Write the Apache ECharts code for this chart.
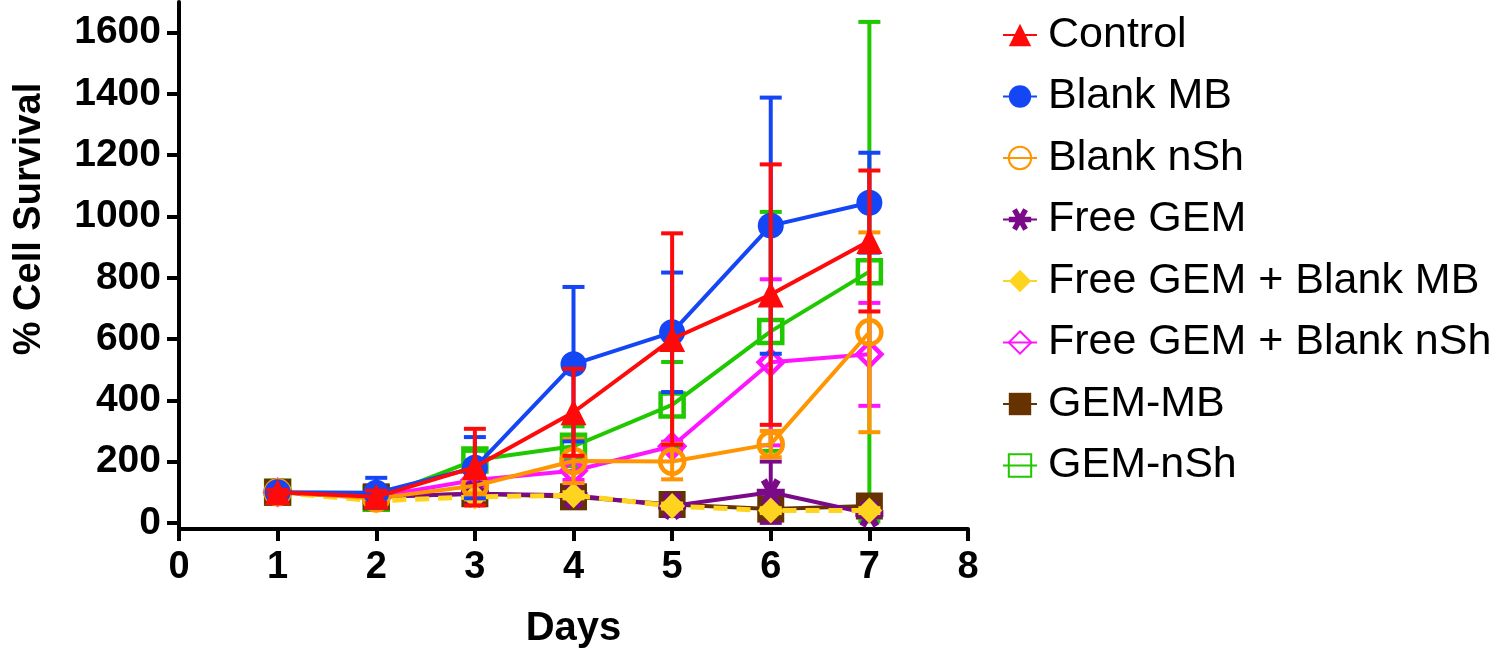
<!DOCTYPE html>
<html>
<head>
<meta charset="utf-8">
<script src="https://cdn.jsdelivr.net/npm/echarts@6/dist/echarts.min.js"></script>
<style>
html,body{margin:0;padding:0;background:#fff;}
#chart{width:1500px;height:661px;}
</style>
</head>
<body>
<div id="chart"></div>
<script>
// ---- data ----
const days = [1, 2, 3, 4, 5, 6, 7];
const xTicks = [0, 1, 2, 3, 4, 5, 6, 7, 8];
const yTicks = [0, 200, 400, 600, 800, 1000, 1200, 1400, 1600];
const seriesNames = ['Control', 'Blank MB', 'Blank nSh', 'Free GEM', 'Free GEM + Blank MB', 'Free GEM + Blank nSh', 'GEM-MB', 'GEM-nSh'];

const control = [100, 85, 182, 361, 600, 745, 920];
const controlSD = [8, 20, 125, 142, 345, 425, 230];

const blankMB = [100, 98, 180, 518, 622, 970, 1045];
const blankMBSD = [8, 49, 100, 252, 195, 418, 163];

const blankNSh = [100, 80, 121, 202, 200, 257, 622];
const blankNShSD = [8, 20, 25, 72, 58, 43, 326];

const freeGEM = [100, 85, 95, 90, 55, 100, 30];
const freeGEMSD = [5, 10, 10, 10, 10, 100, 10];

const freeGEMBlankMB = [100, 72, 85, 90, 55, 40, 40];
const freeGEMBlankMBSD = [5, 8, 8, 10, 8, 8, 8];

const freeGEMBlankNSh = [100, 85, 140, 170, 250, 524, 550];
const freeGEMBlankNShSD = [5, 10, 20, 30, 15, 271, 168];

const gemMB = [100, 85, 95, 85, 60, 45, 55];
const gemMBSD = [5, 10, 10, 10, 8, 8, 8];

const gemNSh = [100, 80, 205, 250, 385, 625, 820];
const gemNShSD = [5, 15, 30, 65, 140, 390, 815];

// ---- styles ----
function asteriskPath() {
  const L = 10, t = 2.4;
  let d = '';
  [0, 60, 120].forEach(a => {
    const r = a * Math.PI / 180, c = Math.cos(r), s = Math.sin(r);
    const pts = [[-L, -t], [L, -t], [L, t], [-L, t]].map(p => [p[0] * c - p[1] * s, p[0] * s + p[1] * c]);
    d += 'M' + pts.map(p => p[0].toFixed(3) + ' ' + p[1].toFixed(3)).join(' L') + ' Z ';
  });
  return 'path://' + d;
}

const defs = [
  {name: seriesNames[0], values: control, sd: controlSD, color: '#FF0A0A', symbol: 'triangle', size: 26, open: false, z: 20},
  {name: seriesNames[1], values: blankMB, sd: blankMBSD, color: '#1446F5', symbol: 'circle', size: 26, open: false, z: 18},
  {name: seriesNames[2], values: blankNSh, sd: blankNShSD, color: '#FF9500', symbol: 'circle', size: 24, open: true, z: 16},
  {name: seriesNames[3], values: freeGEM, sd: freeGEMSD, color: '#7A0A88', symbol: asteriskPath(), size: 28, open: false, z: 12},
  {name: seriesNames[4], values: freeGEMBlankMB, sd: freeGEMBlankMBSD, color: '#FFD41E', symbol: 'diamond', size: 26, open: false, z: 14, dashed: true},
  {name: seriesNames[5], values: freeGEMBlankNSh, sd: freeGEMBlankNShSD, color: '#FF14FF', symbol: 'diamond', size: 24, open: true, z: 10},
  {name: seriesNames[6], values: gemMB, sd: gemMBSD, color: '#663300', symbol: 'rect', size: 27, open: false, z: 8},
  {name: seriesNames[7], values: gemNSh, sd: gemNShSD, color: '#20C800', symbol: 'rect', size: 23, open: true, z: 6}
];

const series = [];
defs.forEach(d => {
  const errData = days.map((x, i) => [x, d.values[i] - d.sd[i], d.values[i] + d.sd[i]]);
  series.push({
    name: d.name + ' SD',
    type: 'custom',
    z: d.z - 1,
    silent: true,
    data: errData,
    encode: {x: 0, y: [1, 2]},
    renderItem: (params, api) => {
      const x = api.value(0), lo = api.value(1), hi = api.value(2);
      const pLo = api.coord([x, lo]);
      const pHi = api.coord([x, hi]);
      const w = 11;
      const st = {stroke: d.color, lineWidth: 4, fill: null};
      return {
        type: 'group',
        children: [
          {type: 'line', shape: {x1: pHi[0], y1: pHi[1], x2: pLo[0], y2: pLo[1]}, style: st},
          {type: 'line', shape: {x1: pHi[0] - w, y1: pHi[1], x2: pHi[0] + w, y2: pHi[1]}, style: st},
          {type: 'line', shape: {x1: pLo[0] - w, y1: pLo[1], x2: pLo[0] + w, y2: pLo[1]}, style: st}
        ]
      };
    }
  });
  series.push({
    name: d.name,
    type: 'line',
    z: d.z,
    data: days.map((x, i) => [x, d.values[i]]),
    symbol: d.symbol,
    symbolSize: d.size,
    showSymbol: true,
    lineStyle: {color: d.color, width: d.dashed ? 5 : 4, type: d.dashed ? [14, 9] : 'solid'},
    itemStyle: d.open
      ? {color: 'rgba(255,255,255,0)', borderColor: d.color, borderWidth: 4.5}
      : {color: d.color, borderWidth: 0},
    emphasis: {disabled: true}
  });
});

const chart = echarts.init(document.getElementById('chart'), null, {renderer: 'canvas'});
chart.setOption({
  animation: false,
  backgroundColor: '#fff',
  grid: {left: 179, right: 532, top: 2, bottom: 132, containLabel: false},
  xAxis: {
    type: 'value',
    min: 0, max: 8, interval: 1,
    name: 'Days',
    nameLocation: 'middle',
    nameGap: 80,
    nameTextStyle: {fontFamily: 'Liberation Sans', fontWeight: 'bold', fontSize: 40, color: '#000'},
    axisLine: {show: true, onZero: false, lineStyle: {color: '#000', width: 4}},
    axisTick: {show: true, length: 12, lineStyle: {color: '#000', width: 4}},
    axisLabel: {
      margin: 20, fontFamily: 'Liberation Sans', fontWeight: 'bold', fontSize: 38, color: '#000',
      customValues: xTicks, formatter: v => String(v)
    },
    splitLine: {show: false}
  },
  yAxis: {
    type: 'value',
    min: -20, max: 1700,
    axisLine: {show: true, onZero: false, lineStyle: {color: '#000', width: 4}},
    axisTick: {show: true, length: 12, lineStyle: {color: '#000', width: 4}, customValues: yTicks},
    axisLabel: {
      margin: 18, fontFamily: 'Liberation Sans', fontWeight: 'bold', fontSize: 39, color: '#000',
      customValues: yTicks, formatter: v => String(v)
    },
    splitLine: {show: false}
  },
  legend: {
    data: seriesNames,
    orient: 'vertical',
    left: 997,
    top: 8,
    itemWidth: 34,
    itemHeight: 28,
    itemGap: 17.5,
    selectedMode: false,
    textStyle: {fontFamily: 'Liberation Sans', fontSize: 43, color: '#000', lineHeight: 44, padding: [0, 0, 0, 6]}
  },
  graphic: [{
    type: 'text',
    x: 30, y: 219,
    rotation: Math.PI / 2,
    style: {
      text: '% Cell Survival',
      fontFamily: 'Liberation Sans', fontWeight: 'bold', fontSize: 38, fill: '#000',
      align: 'center', verticalAlign: 'middle'
    }
  }],
  series: series
});
</script>
</body>
</html>
